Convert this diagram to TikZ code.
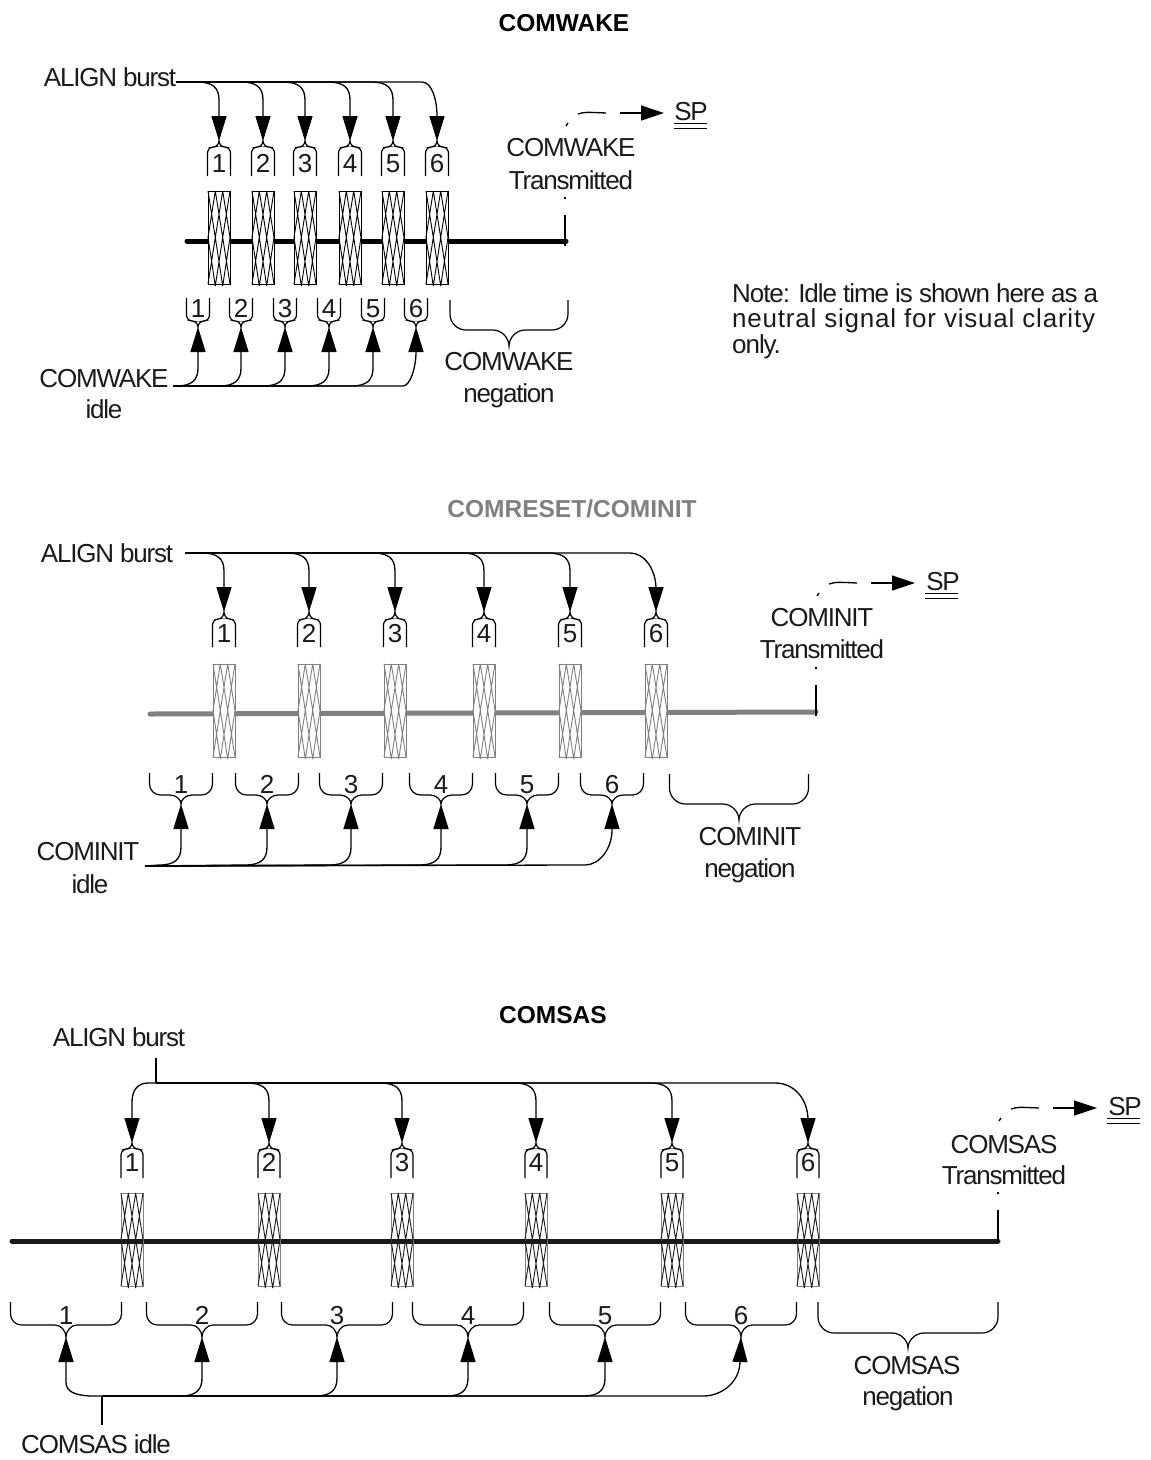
\documentclass[tikz,border=0pt]{standalone}
\usepackage{fontspec}
\setmainfont{Liberation Sans}
\newfontfamily\tightfont[LetterSpace=-4.6]{Liberation Sans}
\newfontfamily\notefont[LetterSpace=-4.1]{Liberation Sans}
\newfontfamily\spacedfont[LetterSpace=3]{Liberation Sans}
\usetikzlibrary{arrows.meta}
\definecolor{ink}{HTML}{1A1A1A}
\definecolor{midgray}{HTML}{808080}
\tikzset{
  lbl/.style={inner sep=0pt,anchor=base,text=ink,font=\fontsize{26}{28}\tightfont},
  ttl/.style={inner sep=0pt,anchor=base,font=\fontsize{24.5}{27}\selectfont\bfseries},
  conn/.style={line width=1.3pt,black},
  arr/.style={conn,-{Triangle[length=25pt,width=15pt]}},
  brc/.style={line width=1.2pt,black},
  signal/.style={line width=5pt,line cap=round},
  lat/.style={line width=0.9pt},
  dbl/.style={line width=1pt,black}
}
% brace: centre, half width, free-end y, shoulder y, tip y, corner radius
\newcommand\Brc[6]{%
  \pgfmathsetmacro\dd{(#5>#4)?1:-1}%
  \pgfmathsetmacro\kk{0.45*#6}%
  \pgfmathsetmacro\tt{0.5*(#5-#4)}%
  \draw[brc] ({#1-#2},#3) -- ({#1-#2},{#4-\dd*#6})
    .. controls ({#1-#2},{#4-\dd*\kk}) and ({#1-#2+\kk},#4) .. ({#1-#2+#6},#4) -- ({#1-#6},#4)
    .. controls ({#1-\kk},#4) and (#1,{#4+\tt}) .. (#1,#5)
    .. controls (#1,{#4+\tt}) and ({#1+\kk},#4) .. ({#1+#6},#4) -- ({#1+#2-#6},#4)
    .. controls ({#1+#2-\kk},#4) and ({#1+#2},{#4-\dd*\kk}) .. ({#1+#2},{#4-\dd*#6}) -- ({#1+#2},#3);}
% burst: centre, top, bottom, edge colour, line colour, fill
\newcommand\Burst[6]{%
  \pgfmathsetmacro\xa{#1-11}\pgfmathsetmacro\xb{#1-3.7}\pgfmathsetmacro\xc{#1+3.7}\pgfmathsetmacro\xd{#1+11}%
  \pgfmathsetmacro\ym{(#2+#3)/2}%
  \draw[lat,draw=#4,#6] (\xa,#2) rectangle (\xd,#3);
  \draw[lat,draw=#5] (\xa,#2) -- (\xb,\ym) -- (\xa,#3)
    (\xb,#2) -- (\xa,\ym) -- (\xb,{#3+2})
    (\xb,#2) -- (\xc,\ym) -- (\xb,{#3+2})
    (\xc,#2) -- (\xb,\ym) -- (\xc,{#3+2})
    (\xc,#2) -- (\xd,\ym) -- (\xc,{#3+2})
    (\xd,#2) -- (\xc,\ym) -- (\xd,#3);}
% transmitted marker: prefix, dx, dy, bottom y
\newcommand\Marker[4]{%
  \coordinate (#1sp) at ({664+#2},{113+#3});
  \draw[conn] ({565+#2},{215+#3}) -- ({565+#2},#4);
  \draw[conn] ({565+#2},{197+#3}) -- ({565+#2},{199+#3});
  \draw[conn] ({566+#2},{126+#3}) -- ({568+#2},{123+#3});
  \draw[conn] ({578+#2},{114+#3}) .. controls ({585+#2},{112+#3}) .. ({606+#2},{113+#3});
  \draw[conn,-{Triangle[length=23pt,width=15pt]}] ({620+#2},{113+#3}) -- (#1sp);
  \draw[dbl] ({674+#2},{123+#3}) -- ({707+#2},{123+#3}) ({674+#2},{128+#3}) -- ({707+#2},{128+#3});}
\begin{document}
\begin{tikzpicture}[x=1pt,y=-1pt]
\useasboundingbox (0,0) rectangle (1151,1460);

%% ---------- COMWAKE ----------
\node[ttl,text=black] (wtitle) at (564,31) {COMWAKE};
\draw[signal,black] (187,241) -- (566,241);
\foreach \i/\c in {1/219,2/263,3/305,4/350,5/393,6/437}{
  \Burst{\c}{191}{284}{black}{black}{fill=white}
  \Brc{\c}{11.5}{176}{147}{141}{6}
  \node[lbl] (wu\i) at (\c,172) {\i};
  \coordinate (wut\i) at (\c,141);
}
\foreach \i/\c in {1/198,2/241,3/285,4/329,5/373,6/416}{
  \Brc{\c}{11.5}{298}{321}{327}{6}
  \node[lbl] (wl\i) at (\c,317) {\i};
  \coordinate (wlt\i) at (\c,327);
}
\node[lbl] (walign) at (110,86) {ALIGN burst};
\coordinate (wbus) at (177,82);
\draw[conn] (walign.east |- wbus) -- (wbus);
\foreach \i/\c in {1/219,2/263,3/305,4/350,5/393}{
  \draw[arr] (wbus) -- ({\c-22},82) .. controls ({\c-6},82) and (\c,88) .. (\c,100) -- (wut\i);
}
\draw[arr] (wbus) -- (422,82) .. controls (432,82) and (437,100) .. (437,116) -- (wut6);
\node[lbl] (widle1) at (104,387) {COMWAKE};
\node[lbl] (widle2) at (104,418) {idle};
\coordinate (wibus) at (173,386);
\foreach \i/\c in {1/198,2/241,3/285,4/329,5/373}{
  \draw[arr] (wibus) -- ({\c-22},386) .. controls ({\c-6},386) and (\c,380) .. (\c,368) -- (wlt\i);
}
\draw[arr] (wibus) -- (403,386) .. controls (410,386) and (416,368) .. (416,352) -- (wlt6);
\Brc{509}{59}{300}{330}{346}{16}
\node[lbl] (wneg1) at (509,370) {COMWAKE};
\node[lbl] (wneg2) at (509,402) {negation};
\Marker{w}{0}{0}{246}
\node[lbl] (wtx1) at (571,156) {COMWAKE};
\node[lbl] (wtx2) at (571,189) {Transmitted};
\node[lbl] (wsp) at (691,120) {SP};
\node[inner sep=0pt,anchor=base west,text=ink,align=left,font=\fontsize{26}{25.5}\selectfont] (note) at (732,353)
  {{\notefont Note: Idle time is shown here as a}\\{\spacedfont neutral signal for visual clarity}\\{\notefont only.}};

%% ---------- COMRESET/COMINIT ----------
\node[ttl,text=midgray] (rtitle) at (572,517) {COMRESET/COMINIT};
\draw[signal,midgray] (150,714) -- (816,712);
\foreach \i/\c in {1/224,2/309,3/395,4/484,5/570,6/656}{
  \Burst{\c}{664}{757}{midgray}{midgray}{fill=white}
  \Brc{\c}{11.5}{647}{619}{612}{6}
  \node[lbl] (ru\i) at (\c,642) {\i};
  \coordinate (rut\i) at (\c,612);
}
\foreach \i/\c in {1/181,2/267,3/351,4/441,5/527,6/612}{
  \Brc{\c}{31.5}{773}{795}{804}{11}
  \node[lbl] (rl\i) at (\c,793) {\i};
  \coordinate (rlt\i) at (\c,804);
}
\node[lbl] (ralign) at (107,562) {ALIGN burst};
\coordinate (rbus) at (185,553);
\foreach \i/\c in {1/224,2/309,3/395,4/484,5/570}{
  \draw[arr] (rbus) -- ({\c-22},553) .. controls ({\c-6},553) and (\c,559) .. (\c,571) -- (rut\i);
}
\draw[arr] (rbus) -- (630,553) .. controls (645,553) and (656,570) .. (656,589) -- (rut6);
\node[lbl] (ridle1) at (88,860) {COMINIT};
\node[lbl] (ridle2) at (90,893) {idle};
\coordinate (ribus) at (145,866);
\foreach \i/\c in {1/181,2/267,3/351,4/441,5/527}{
  \draw[arr] (ribus) -- ({\c-22},865) .. controls ({\c-6},865) and (\c,859) .. (\c,847) -- (rlt\i);
}
\draw[arr] (ribus) -- (585,865) .. controls (600,865) and (612,848) .. (612,830) -- (rlt6);
\Brc{739}{69.5}{774}{804}{820}{16}
\node[lbl] (rneg1) at (750,845) {COMINIT};
\node[lbl] (rneg2) at (750,877) {negation};
\Marker{r}{251}{470}{716}
\node[lbl] (rtx1) at (822,626) {COMINIT};
\node[lbl] (rtx2) at (822,658) {Transmitted};
\node[lbl] (rsp) at (943,590) {SP};

%% ---------- COMSAS ----------
\node[ttl,text=black] (stitle) at (553,1023) {COMSAS};
\draw[signal,ink] (12,1241) -- (998,1241);
\foreach \i/\c in {1/132,2/269,3/402,4/536,5/672,6/808}{
  \Burst{\c}{1193}{1286}{gray}{ink}{}
  \Brc{\c}{11}{1178}{1149}{1143}{6}
  \node[lbl] (su\i) at (\c,1171) {\i};
  \coordinate (sut\i) at (\c,1143);
}
\foreach \i/\c in {1/66,2/202,3/337,4/468,5/605,6/741}{
  \Brc{\c}{55.5}{1302}{1325}{1337}{11}
  \node[lbl] (sl\i) at (\c,1324) {\i};
  \coordinate (slt\i) at (\c,1337);
}
\node[lbl] (salign) at (119,1046) {ALIGN burst};
\coordinate (sbus) at (156,1083);
\draw[conn] (156,1058) -- (sbus);
\draw[arr] (sbus) -- (148,1083) .. controls (138,1083) and (132,1090) .. (132,1102) -- (sut1);
\foreach \i/\c in {2/269,3/402,4/536,5/672}{
  \draw[arr] (sbus) -- ({\c-22},1083) .. controls ({\c-6},1083) and (\c,1089) .. (\c,1101) -- (sut\i);
}
\draw[arr] (sbus) -- (775,1083) .. controls (795,1083) and (808,1100) .. (808,1120) -- (sut6);
\node[lbl] (sidle) at (96,1453) {COMSAS idle};
\coordinate (sibus) at (102,1396);
\draw[conn] (102,1425) -- (sibus);
\draw[arr] (sibus) -- (90,1396) .. controls (75,1395) and (66,1392) .. (66,1382) -- (slt1);
\foreach \i/\c in {2/202,3/337,4/468,5/605}{
  \draw[arr] (sibus) -- ({\c-22},1396) .. controls ({\c-6},1396) and (\c,1390) .. (\c,1378) -- (slt\i);
}
\draw[arr] (sibus) -- (703,1396) .. controls (722,1396) and (740,1382) .. (740,1361) -- (slt6);
\Brc{908}{90}{1302}{1333}{1348}{16}
\node[lbl] (sneg1) at (907,1374) {COMSAS};
\node[lbl] (sneg2) at (908,1405) {negation};
\Marker{s}{433}{995}{1242}
\node[lbl] (stx1) at (1004,1153) {COMSAS};
\node[lbl] (stx2) at (1004,1184) {Transmitted};
\node[lbl] (ssp) at (1125,1115) {SP};
\end{tikzpicture}
\end{document}
